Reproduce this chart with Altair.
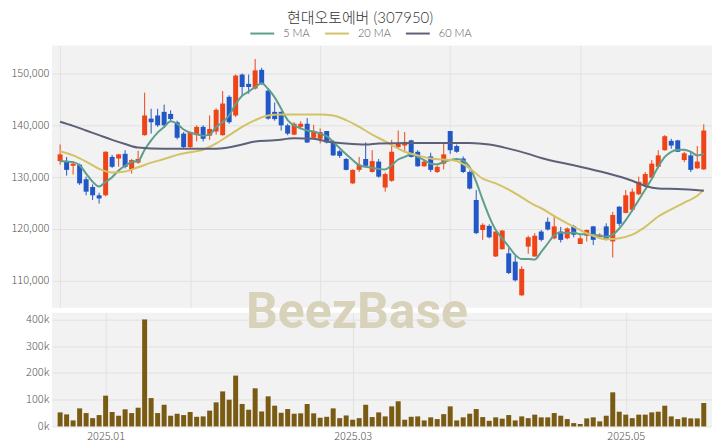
import altair as alt
import pandas as pd

# ---- data ----
idx = list(range(100))
opens = [133100,133100,132200,132400,129600,128100,126500,126500,133900,133600,
         134500,131400,132800,138100,141300,141900,142600,142200,140600,138400,
         135800,138100,139700,138000,138800,138100,145500,141900,149800,148000,
         147100,150700,146700,142600,142600,140000,138200,139700,140300,137600,
         137400,138900,136700,135000,133500,128800,131400,133500,131000,133000,
         128000,129300,135800,136100,137100,134900,132100,134000,131000,132600,
         138900,136000,133600,131000,125600,119800,120600,114700,116100,115300,
         113700,107200,116600,114700,119500,121400,118200,119500,118200,120500,
         117100,118700,120500,118400,120500,117600,124300,123100,123700,126700,
         128500,129900,132000,135200,137000,137100,133300,134200,131700,131500]
highs = [136300,133900,133100,132600,130100,128600,127000,135000,134300,134500,
         135200,133500,135100,146300,143200,143200,144000,142900,140900,138700,
         138800,140000,140000,141900,143300,146600,145800,149800,150000,149800,
         152800,151100,147100,144400,142700,140300,140600,140800,141400,140100,
         139400,138900,137100,135300,133700,131500,133900,136700,135200,133500,
         130900,137200,139000,138700,137200,135200,133300,134700,132300,136500,
         138900,136300,134000,131300,127500,121100,120900,119500,119800,116300,
         114800,112800,118700,119200,119800,122200,122700,120400,120300,120800,
         118800,119900,120600,119200,121100,123300,124400,127500,127800,130100,
         131000,133300,135200,138100,137400,137200,134900,134900,136000,140200]
lows = [132400,130300,130500,128500,126500,125600,124900,126300,131800,132000,
        131700,130700,132600,138000,138400,139700,139500,140600,137300,135600,
        135600,136900,136900,137200,138200,138000,140300,141600,145600,146100,
        146900,147800,141100,140900,139000,138100,138100,139200,136600,137400,
        136500,136500,134100,133700,131300,128700,131000,132000,130900,129900,
        127200,129100,135500,134900,133800,132000,132000,131000,130800,131500,
        134500,134700,130800,127600,119000,117900,118200,114600,116000,111300,
        109900,107100,115200,114600,117600,119700,118000,117400,118000,118400,
        117100,117600,116900,118200,117800,114500,120600,123000,123300,126500,
        128300,129700,131700,135100,135500,134900,132900,131000,131600,131400]
closes = [134400,131400,132600,128800,127200,126500,125900,134900,132000,134400,
          132000,133300,133500,141900,140600,140000,140000,141200,137600,135800,
          138700,139700,137400,139300,143000,144200,140600,149600,147400,147400,
          150600,148000,141300,141200,140000,138400,140300,140300,136700,138900,
          138700,136700,134200,134100,131400,131400,132400,132200,133100,130100,
          130600,134900,136600,136800,133900,132100,133000,131400,132000,134400,
          135200,134900,131000,127800,119200,120800,118400,119500,119700,111500,
          110100,112300,118400,118700,117900,119900,120500,117900,120100,118900,
          118200,119800,117900,118900,118000,122700,121000,126500,127200,129100,
          130600,132600,134200,137900,136100,134900,134600,131400,133000,139000]
volumes = [52500,45000,22500,67500,50000,31000,42500,115000,54000,40000,
           64000,50000,70000,400000,106000,50000,81000,40000,47500,42500,
           54000,36000,37500,59000,90000,131000,100000,190000,84000,62500,
           142500,56000,112500,77500,51000,65000,47500,49000,84000,49000,
           32500,36000,67500,31000,41000,25000,31000,81000,35000,52500,
           37500,75000,94000,25000,36000,37500,22500,34000,27500,46000,
           75000,22500,34000,47500,65000,35000,21000,34000,29000,42500,
           22500,37500,31000,44000,34000,34000,50000,40000,27500,12500,
           9000,30000,34000,19000,40000,127500,55000,44000,31000,44000,
           44000,52500,55000,77500,37500,27500,34000,30000,30000,87500]
ma5 = [133100,133000,132900,132300,130700,129100,128200,129100,130000,131300,
       132200,132900,133100,135300,137100,138600,139700,140800,140300,139200,
       138600,138300,138000,138200,139700,140600,141900,144100,145700,146500,
       147400,148100,147000,145400,143200,141000,140000,139400,139000,138800,
       138400,137900,136800,135600,134400,133300,132300,132000,131800,131600,
       131500,132300,133400,133900,134400,133900,133300,132600,132500,132900,
       133300,133500,133200,131900,129100,125600,122400,119800,118200,116600,
       115000,114200,114200,114100,115600,117200,118800,119300,119200,119300,
       119000,119000,118900,118700,118500,118900,120100,121700,123600,125600,
       127600,129700,132000,133900,134900,135300,135300,134900,134200,134500]
ma20_idx = [0,2,4,6,8,10,12,14,16,18,20,22,24,26,28,30,32,34,37,40,42,44,46,48,
            50,51,53,55,57,59,61,63,65,67,69,71,73,74,76,78,80,82,84,86,88,90,
            92,94,96,98,99]
ma20_val = [135000,134200,133000,131600,130900,131100,131900,132800,133500,134300,
            134800,135300,136500,138100,139700,141000,141900,142100,142100,142100,
            141900,141000,139700,138200,136900,136200,134900,134200,133600,133400,
            133100,131700,129700,128800,127600,126100,124600,124000,122500,121100,
            119800,118700,118000,118200,118900,120400,122400,123800,125100,126400,
            127600]
ma60_idx = [0,2,4,6,8,10,12,14,18,24,28,30,33,36,39,41,44,47,49,54,59,63,66,69,
            72,74,79,84,88,90,92,95,99]
ma60_val = [140700,139900,139000,138100,137200,136400,135700,135550,135500,135500,
            136300,136900,137100,137500,137400,136900,136500,136300,136500,136600,
            136600,136600,136300,135500,134500,133700,132300,130800,129300,128300,
            127800,127700,127400]
ma_names = ["5 MA", "20 MA", "60 MA"]
ma_colors = ["#5e9e8c", "#d4c266", "#5d6178"]
tick_idx = [7, 45, 87]
tick_labels = ["2025.01", "2025.03", "2025.05"]
price_ticks = [110000, 120000, 130000, 140000, 150000]
vol_ticks = [0, 100000, 200000, 300000, 400000]

RED = "#ee4418"
BLUE = "#2258c6"
VOL = "#7a5b14"
FONT = "Noto Sans CJK KR"
TITLE_FONT = "Lato, Noto Sans CJK KR"
LEGEND_FONT = "Lato, Noto Sans"

df = pd.DataFrame({"i": idx, "open": opens, "high": highs, "low": lows,
                   "close": closes, "volume": volumes})
ma_df = pd.DataFrame({
    "i": idx + ma20_idx + ma60_idx,
    "value": ma5 + ma20_val + ma60_val,
    "ma": [ma_names[0]] * len(idx) + [ma_names[1]] * len(ma20_idx) + [ma_names[2]] * len(ma60_idx),
})

W = 662
xscale = alt.Scale(domain=[-0.5, 99.5], nice=False, zero=False)
pscale = alt.Scale(domain=[104800, 155400], nice=False, zero=False)
vscale = alt.Scale(domain=[0, 425000], nice=False)

x_price_axis = alt.Axis(values=[0, 20, 40, 60, 80], labels=False, ticks=False,
                        domain=False, grid=True, title=None)
y_price_axis = alt.Axis(values=price_ticks, format=",d", title=None, labelPadding=3,
                        minExtent=44, maxExtent=44, grid=True)

label_expr = "{" + ",".join(f"'{i}':'{t}'" for i, t in zip(tick_idx, tick_labels)) + "}[datum.value]"
x_vol_axis = alt.Axis(values=tick_idx, labelExpr=label_expr, title=None, grid=True,
                      ticks=False, domain=False, labelPadding=4)
y_vol_axis = alt.Axis(values=vol_ticks, format="~s", title=None, labelPadding=3,
                      minExtent=44, maxExtent=44, grid=True)

color_cond = alt.condition("datum.close >= datum.open", alt.value(RED), alt.value(BLUE))

base = alt.Chart(df)
wick = base.mark_rule(strokeWidth=1).encode(
    x=alt.X("i:Q", scale=xscale, axis=x_price_axis),
    y=alt.Y("low:Q", scale=pscale, axis=y_price_axis),
    y2="high:Q",
    color=color_cond,
)
body = base.mark_bar(size=5).encode(
    x=alt.X("i:Q", scale=xscale),
    y=alt.Y("open:Q", scale=pscale),
    y2="close:Q",
    color=color_cond,
)
lines = alt.Chart(ma_df).mark_line(strokeWidth=2, interpolate="monotone").encode(
    x=alt.X("i:Q", scale=xscale),
    y=alt.Y("value:Q", scale=pscale),
    color=alt.Color("ma:N", scale=alt.Scale(domain=ma_names, range=ma_colors),
                    sort=ma_names,
                    legend=alt.Legend(title=None, orient="none", direction="horizontal",
                                      legendX=198, legendY=-25, symbolType="stroke",
                                      symbolSize=576, symbolStrokeWidth=2,
                                      labelFontSize=11, labelColor="#555",
                                      labelFont=LEGEND_FONT, labelFontWeight=300,
                                      labelOffset=8, columnPadding=11, padding=0)),
)
price = alt.layer(wick, body, lines).properties(width=W, height=263)

vol = alt.Chart(df).mark_bar(size=5, color=VOL).encode(
    x=alt.X("i:Q", scale=xscale, axis=x_vol_axis),
    y=alt.Y("volume:Q", scale=vscale, axis=y_vol_axis),
)
wm = alt.Chart(pd.DataFrame({"t": ["BeezBase"]})).mark_text(
    font="Roboto", fontWeight="bold", fontSize=50, color="#d8d2bb",
    align="center", baseline="alphabetic",
).encode(text="t:N", x=alt.value(306), y=alt.value(15))
volume = alt.layer(vol, wm).properties(width=W, height=114)

chart = alt.vconcat(price, volume, spacing=5, bounds="flush").properties(
    title=alt.TitleParams("현대오토에버 (307950)", font=TITLE_FONT, fontSize=15,
                          fontWeight=300, color="#333", anchor="middle", offset=-5),
    padding={"left": 0, "top": 2, "right": 0, "bottom": 0},
).configure_view(stroke=None, fill="#f2f2f2").configure_axis(
    labelFont=FONT, labelFontSize=11, labelFontWeight=300, labelColor="#555",
    gridColor="#e2e2e2", domain=False, ticks=False,
)

chart.save("out.html", embed_options={"renderer": "svg", "actions": False})
